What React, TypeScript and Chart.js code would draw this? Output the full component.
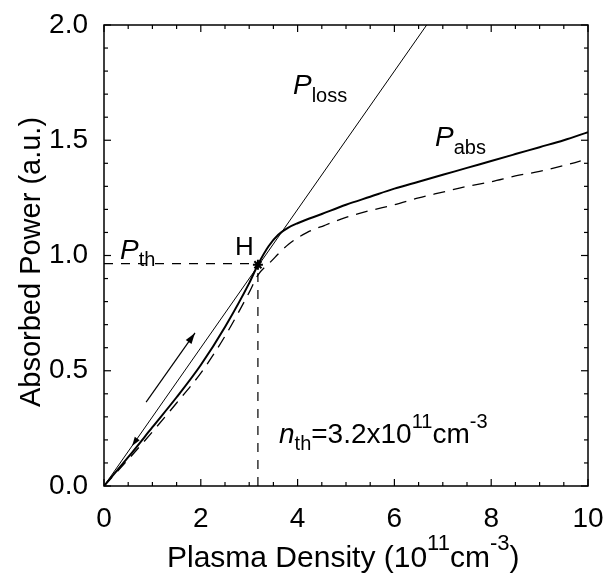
import React, { useEffect, useRef } from "react";
import { Chart, registerables } from "chart.js";

Chart.register(...registerables);

// Plasma density (1e11 cm^-3) and absorbed power (a.u.)
const densityAbs = [0, 0.5, 1.0, 1.5, 2.0, 2.5, 3.0, 3.18, 3.4, 3.6, 3.8, 4.0, 4.5, 5.0, 5.5, 6.0, 6.5, 7.0, 7.5, 8.0, 8.5, 9.0, 9.5, 10.0];
const powerAbs = [0, 0.125, 0.255, 0.385, 0.525, 0.69, 0.88, 0.96, 1.04, 1.09, 1.12, 1.14, 1.18, 1.22, 1.255, 1.29, 1.32, 1.35, 1.38, 1.41, 1.44, 1.47, 1.50, 1.535];

const densityDash = [0, 0.5, 1.0, 1.5, 2.0, 2.5, 3.0, 3.18, 3.43, 3.82, 4.2, 4.55, 5.0, 5.5, 6.0, 6.5, 7.0, 7.5, 8.0, 8.5, 9.0, 9.5, 9.85];
const powerDash = [0, 0.115, 0.235, 0.36, 0.49, 0.65, 0.84, 0.915, 0.97, 1.05, 1.10, 1.13, 1.165, 1.195, 1.22, 1.25, 1.275, 1.30, 1.32, 1.345, 1.365, 1.39, 1.41];

const densityLoss = [0, 10];
const powerLoss = [0, 3.0];

const thresholdDensity = 3.18;
const thresholdPower = 0.965;
const pthX = [0, thresholdDensity];
const pthY = [thresholdPower, thresholdPower];
const nthX = [thresholdDensity, thresholdDensity];
const nthY = [0, thresholdPower];

const pointHX = [3.18];
const pointHY = [0.96];

const arrowX = [0.87, 1.88];
const arrowY = [0.364, 0.664];
const backArrowX = [0.75, 0.58];
const backArrowY = [0.225, 0.174];

const xTicks = [0, 2, 4, 6, 8, 10];
const yTicks = [0, 0.5, 1.0, 1.5, 2.0];

const FONT = "'Liberation Sans', Arial, Helvetica, sans-serif";

const pts = (xs: number[], ys: number[]) => xs.map((x, i) => ({ x, y: ys[i] }));

type Run = { t: string; size: number; italic?: boolean; dy?: number };

function drawRuns(ctx: CanvasRenderingContext2D, x: number, y: number, runs: Run[]) {
  let cx = x;
  for (const r of runs) {
    ctx.font = `${r.italic ? "italic " : ""}${r.size}px ${FONT}`;
    ctx.fillText(r.t, cx, y + (r.dy || 0));
    cx += ctx.measureText(r.t).width;
  }
}

function arrowHead(ctx: CanvasRenderingContext2D, x0: number, y0: number, x1: number, y1: number, len: number, half: number) {
  const ang = Math.atan2(y1 - y0, x1 - x0);
  ctx.beginPath();
  ctx.moveTo(x1, y1);
  ctx.lineTo(x1 - len * Math.cos(ang) + half * Math.sin(ang), y1 - len * Math.sin(ang) - half * Math.cos(ang));
  ctx.lineTo(x1 - len * Math.cos(ang) - half * Math.sin(ang), y1 - len * Math.sin(ang) + half * Math.cos(ang));
  ctx.closePath();
  ctx.fill();
}

const decor = {
  id: "decor",
  afterDatasetsDraw(chart: any) {
    const { ctx, chartArea: a, scales } = chart;
    const xs = scales.x;
    const ys = scales.y;
    ctx.save();
    ctx.strokeStyle = "#000";
    ctx.fillStyle = "#000";
    ctx.lineWidth = 1.5;
    ctx.strokeRect(a.left, a.top, a.right - a.left, a.bottom - a.top);

    ctx.lineWidth = 1.2;
    const seg = (x0: number, y0: number, x1: number, y1: number) => {
      ctx.beginPath();
      ctx.moveTo(x0, y0);
      ctx.lineTo(x1, y1);
      ctx.stroke();
    };
    for (let i = 0; i <= 20; i++) {
      const px = xs.getPixelForValue(i * 0.5);
      const L = i % 4 === 0 ? 7 : 4;
      seg(px, a.bottom, px, a.bottom - L);
      seg(px, a.top, px, a.top + L);
    }
    for (let i = 0; i <= 20; i++) {
      const py = ys.getPixelForValue(i * 0.1);
      const L = i % 5 === 0 ? 7 : 4;
      seg(a.left, py, a.left + L, py);
      seg(a.right, py, a.right - L, py);
    }

    // arrow heads
    const ax0 = xs.getPixelForValue(arrowX[0]);
    const ay0 = ys.getPixelForValue(arrowY[0]);
    const ax1 = xs.getPixelForValue(arrowX[1]);
    const ay1 = ys.getPixelForValue(arrowY[1]);
    arrowHead(ctx, ax0, ay0, ax1, ay1, 11, 3.5);
    const bx0 = xs.getPixelForValue(backArrowX[0]);
    const by0 = ys.getPixelForValue(backArrowY[0]);
    const bx1 = xs.getPixelForValue(backArrowX[1]);
    const by1 = ys.getPixelForValue(backArrowY[1]);
    arrowHead(ctx, bx0, by0, bx1, by1, 9, 3);

    // annotations
    ctx.textAlign = "left";
    ctx.textBaseline = "alphabetic";
    drawRuns(ctx, 293, 94, [
      { t: "P", size: 28, italic: true },
      { t: "loss", size: 20, dy: 8 },
    ]);
    drawRuns(ctx, 435, 146, [
      { t: "P", size: 28, italic: true },
      { t: "abs", size: 20, dy: 8 },
    ]);
    drawRuns(ctx, 120, 259, [
      { t: "P", size: 28, italic: true },
      { t: "th", size: 20, dy: 7 },
    ]);
    drawRuns(ctx, 235, 255, [{ t: "H", size: 26 }]);
    drawRuns(ctx, 279, 443, [
      { t: "n", size: 28, italic: true },
      { t: "th", size: 20, dy: 7 },
      { t: "=3.2x10", size: 28 },
      { t: "11", size: 20, dy: -15 },
      { t: "cm", size: 28 },
      { t: "-3", size: 20, dy: -15 },
    ]);

    // axis titles
    drawRuns(ctx, 167, 567, [
      { t: "Plasma Density (10", size: 30 },
      { t: "11", size: 22, dy: -17 },
      { t: "cm", size: 30 },
      { t: "-3", size: 22, dy: -17 },
      { t: ")", size: 30 },
    ]);
    ctx.save();
    ctx.translate(40, 262);
    ctx.rotate(-Math.PI / 2);
    ctx.textAlign = "center";
    ctx.font = `29px ${FONT}`;
    ctx.fillText("Absorbed Power (a.u.)", 0, 0);
    ctx.restore();

    ctx.restore();
  },
};

export default function App() {
  const ref = useRef<HTMLCanvasElement | null>(null);
  useEffect(() => {
    if (!ref.current) return;
    const line = (data: any[], extra: any) => ({
      data,
      borderColor: "#000",
      backgroundColor: "#000",
      pointRadius: 0,
      fill: false,
      tension: 0,
      ...extra,
    });
    const chart = new Chart(ref.current, {
      type: "line",
      data: {
        datasets: [
          line(pts(densityLoss, powerLoss), { borderWidth: 1 }),
          line(pts(densityAbs, powerAbs), { borderWidth: 2, cubicInterpolationMode: "monotone" }),
          line(pts(densityDash, powerDash), { borderWidth: 1.3, borderDash: [12, 8], cubicInterpolationMode: "monotone" }),
          line(pts(pthX, pthY), { borderWidth: 1.2, borderDash: [9, 8] }),
          line(pts(nthX, nthY), { borderWidth: 1.2, borderDash: [9, 8] }),
          line(pts(arrowX, arrowY), { borderWidth: 1.2 }),
          line(pts(pointHX, pointHY), {
            showLine: false,
            pointRadius: 5,
            pointStyle: "star",
            pointBorderWidth: 2,
            pointBorderColor: "#000",
          }),
        ],
      },
      options: {
        animation: false,
        responsive: false,
        events: [],
        layout: { padding: { top: 25, right: 22, left: 0, bottom: 0 } },
        plugins: { legend: { display: false }, tooltip: { enabled: false }, title: { display: false } },
        scales: {
          x: {
            type: "linear",
            min: 0,
            max: 10,
            grid: { display: false },
            border: { display: false },
            afterBuildTicks: (s: any) => {
              s.ticks = xTicks.map((v) => ({ value: v }));
            },
            ticks: {
              color: "#000",
              font: { size: 28, family: FONT },
              padding: 8,
              maxRotation: 0,
              autoSkip: false,
              callback: (v: any) => String(v),
            },
            afterFit: (s: any) => {
              s.height = 91;
              s.paddingLeft = 0;
              s.paddingRight = 0;
              s.paddingTop = 0;
              s.paddingBottom = 0;
            },
          },
          y: {
            type: "linear",
            min: 0,
            max: 2,
            grid: { display: false },
            border: { display: false },
            afterBuildTicks: (s: any) => {
              s.ticks = yTicks.map((v) => ({ value: v }));
            },
            ticks: {
              color: "#000",
              font: { size: 28, family: FONT },
              padding: 8,
              autoSkip: false,
              callback: (v: any) => Number(v).toFixed(1),
            },
            afterFit: (s: any) => {
              s.width = 104;
              s.paddingLeft = 0;
              s.paddingRight = 0;
              s.paddingTop = 0;
              s.paddingBottom = 0;
            },
          },
        },
      } as any,
      plugins: [decor],
    });
    return () => chart.destroy();
  }, []);
  return (
    <div style={{ position: "absolute", left: 0, top: 0, width: 610, height: 577, background: "#fff" }}>
      <canvas ref={ref} width={610} height={577} style={{ display: "block" }} />
    </div>
  );
}
